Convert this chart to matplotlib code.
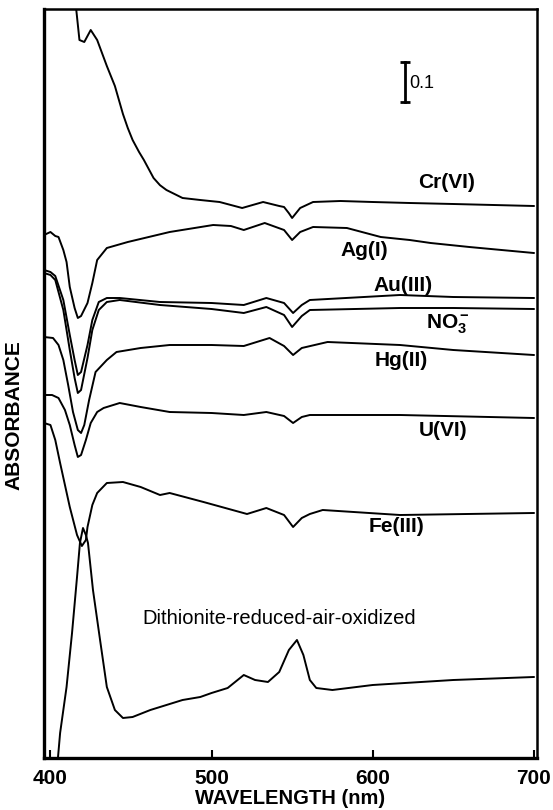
import numpy as np
import matplotlib
matplotlib.use("Agg")
import matplotlib.pyplot as plt

plt.rcParams['font.family'] = ['Liberation Sans', 'DejaVu Sans']
plt.rcParams['mathtext.fontset'] = 'custom'
plt.rcParams['mathtext.rm'] = 'Liberation Sans'
plt.rcParams['mathtext.it'] = 'Liberation Sans'
plt.rcParams['mathtext.bf'] = 'Liberation Sans:bold'

# wavelength (nm) / absorbance (offset traces)
cr_wl = [415, 418, 421, 425, 429, 435, 438, 440, 445, 448, 451, 455, 458, 464, 468, 472,
         477, 482, 493, 505, 519, 532, 542, 545, 548, 550, 552, 555, 563, 580, 600, 623,
         650, 675, 700]
cr_ab = [1.91, 1.795, 1.79, 1.82, 1.795, 1.73, 1.70, 1.68, 1.61, 1.575, 1.545, 1.515,
         1.495, 1.45, 1.432, 1.42, 1.41, 1.40, 1.395, 1.39, 1.375, 1.39, 1.38, 1.3775,
         1.362, 1.35, 1.36, 1.375, 1.39, 1.3925, 1.39, 1.3875, 1.385, 1.3825, 1.38]

ag_wl = [396, 400, 403, 405, 408, 410, 412, 415, 417, 419, 423, 426, 429, 435, 448, 474,
         501, 512, 520, 533, 545, 550, 555, 563, 584, 605, 623, 636, 660, 700]
ag_ab = [1.3075, 1.315, 1.305, 1.3025, 1.27, 1.24, 1.1775, 1.125, 1.10, 1.105, 1.1375,
         1.1875, 1.245, 1.275, 1.29, 1.315, 1.3325, 1.33, 1.32, 1.3375, 1.32, 1.295, 1.315,
         1.3275, 1.325, 1.3025, 1.295, 1.2875, 1.2775, 1.2625]

au_wl = [396, 400, 403, 408, 412, 415, 417, 419, 423, 426, 430, 435, 443, 468, 500, 520,
         534, 545, 550.6, 556, 561, 617, 650, 700]
au_ab = [1.22, 1.215, 1.205, 1.145, 1.0575, 0.995, 0.9575, 0.965, 1.0325, 1.095, 1.14,
         1.15, 1.15, 1.14, 1.1375, 1.1325, 1.15, 1.1375, 1.1125, 1.1325, 1.145, 1.1575,
         1.1525, 1.15]

no3_wl = [396, 400, 403, 408, 412, 415, 417, 419, 423, 426, 430, 435, 443, 468, 500, 520,
          534, 545, 550, 556, 561, 617, 650, 700]
no3_ab = [1.2125, 1.2075, 1.195, 1.12, 1.02, 0.95, 0.9125, 0.92, 1.0, 1.07, 1.12, 1.14,
          1.145, 1.1325, 1.1225, 1.1125, 1.1275, 1.1075, 1.0775, 1.105, 1.12, 1.125,
          1.125, 1.1225]

hg_wl = [396, 401.6, 405, 408, 411, 414, 417, 419, 421, 424, 428, 435, 441, 456, 474, 500,
         520, 536, 545, 550.6, 556, 572, 617, 650, 700]
hg_ab = [1.0525, 1.05, 1.0325, 0.995, 0.9325, 0.865, 0.82, 0.8125, 0.8325, 0.895, 0.965,
         0.995, 1.015, 1.025, 1.0325, 1.0325, 1.03, 1.05, 1.03, 1.0075, 1.025, 1.04,
         1.0325, 1.02, 1.0075]

u_wl = [396, 401, 405, 409, 412, 415, 417, 419, 422, 425, 429, 433, 443, 456, 474, 500,
        520, 534, 545, 550.6, 556, 561, 617, 700]
u_ab = [0.9075, 0.9075, 0.90, 0.87, 0.8325, 0.7825, 0.7525, 0.7575, 0.795, 0.8375, 0.865,
        0.875, 0.8875, 0.8775, 0.865, 0.8625, 0.8575, 0.865, 0.855, 0.8375, 0.8525,
        0.8575, 0.8575, 0.85]

fe_wl = [396, 400, 403, 406, 412, 416.5, 419.5, 422, 423, 426, 429, 435, 445, 456, 468,
         474, 495, 522, 534, 545, 550.6, 556, 561, 569, 617, 700]
fe_ab = [0.8375, 0.8325, 0.795, 0.7375, 0.6275, 0.5575, 0.53, 0.545, 0.5775, 0.6325,
         0.6625, 0.6875, 0.69, 0.6775, 0.6575, 0.6625, 0.64, 0.61, 0.625, 0.6075, 0.5775,
         0.60, 0.61, 0.62, 0.6075, 0.6125]

di_wl = [404, 406, 410, 413.4, 416.5, 418.3, 420.2, 422, 423.3, 426.4, 430.8, 435, 440,
         445, 451, 462, 482, 493, 500, 510, 520, 527, 535, 542, 548, 553, 557, 561, 565,
         575, 600, 650, 700]
di_ab = [-0.03, 0.0625, 0.1775, 0.3125, 0.4525, 0.5375, 0.575, 0.5575, 0.5375, 0.42,
         0.295, 0.1775, 0.12, 0.10, 0.1025, 0.12, 0.145, 0.1525, 0.1625, 0.175, 0.2075,
         0.195, 0.19, 0.215, 0.27, 0.295, 0.2575, 0.195, 0.175, 0.17, 0.1825, 0.195, 0.2025]

traces = [(cr_wl, cr_ab), (ag_wl, ag_ab), (au_wl, au_ab), (no3_wl, no3_ab),
          (hg_wl, hg_ab), (u_wl, u_ab), (fe_wl, fe_ab), (di_wl, di_ab)]

labels = ['Cr(VI)', 'Ag(I)', 'Au(III)', r'NO$\mathbf{_3^-}$', 'Hg(II)', 'U(VI)', 'Fe(III)']
label_wl = [646, 595, 619, 647, 618, 644, 615]
label_ab = [1.4375, 1.27, 1.182, 1.085, 0.995, 0.8175, 0.578]

dith_label = 'Dithionite-reduced-air-oxidized'
dith_wl, dith_ab = 542, 0.35

xticks = [400, 500, 600, 700]
scale_wl = 620
scale_ab = (1.64, 1.74)

fig = plt.figure(figsize=(5.53, 8.10), dpi=100)
ax = fig.add_axes([44/553, 52/810, 493/553, 749/810])

for wl, ab in traces:
    ax.plot(wl, ab, color='black', lw=1.4)

for t, x, y in zip(labels, label_wl, label_ab):
    ax.text(x, y, t, ha='center', va='center', fontsize=15, fontweight='bold')
ax.text(dith_wl, dith_ab, dith_label, ha='center', va='center', fontsize=14.5)

# 0.1 absorbance scale bar
ax.plot([scale_wl, scale_wl], scale_ab, color='black', lw=2,
        marker='_', markersize=7, mew=2)
ax.text(scale_wl + 2.5, np.mean(scale_ab) - 0.005, '0.1', fontsize=13,
        ha='left', va='center')

ax.set_xlim(396, 702)
ax.set_ylim(0, 1.8725)
ax.set_xticks(xticks)
ax.set_xticklabels([str(t) for t in xticks], fontsize=15, fontweight='bold')
ax.set_yticks([])
ax.tick_params(axis='x', direction='in', length=6, width=1.5, pad=8)
for s in ['left', 'bottom']:
    ax.spines[s].set_linewidth(2.4)
for s in ['top', 'right']:
    ax.spines[s].set_linewidth(1.8)

ax.set_xlabel('WAVELENGTH (nm)', fontsize=14.5, fontweight='bold', labelpad=1)
fig.text(14/553, 1 - 415/810, 'ABSORBANCE', rotation=90, fontsize=15,
         fontweight='bold', ha='center', va='center')

fig.savefig('out.png', dpi=100)
